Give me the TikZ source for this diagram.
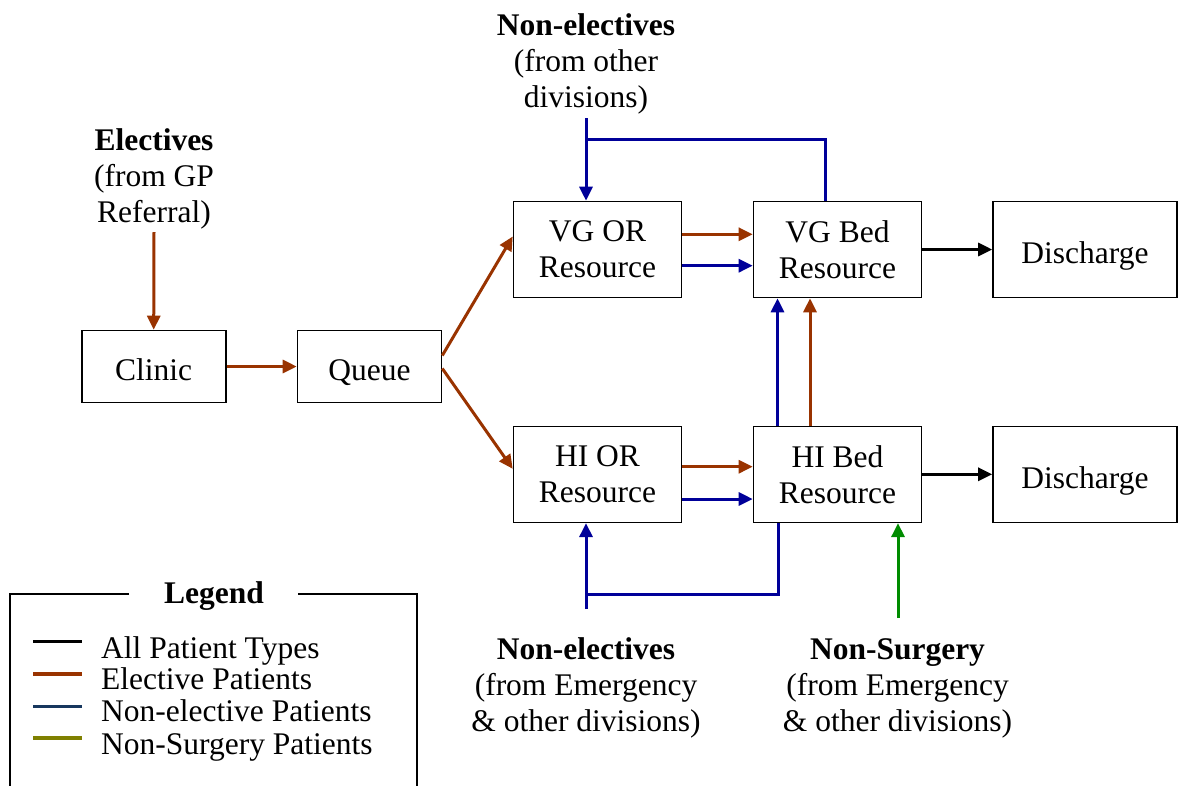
\documentclass[tikz,border=0pt]{standalone}
\usepackage{fontspec}
\setmainfont{Liberation Serif}
\usetikzlibrary{arrows.meta}
\definecolor{elec}{HTML}{993300}
\definecolor{nonel}{HTML}{000099}
\definecolor{nonsurg}{HTML}{008C00}
\definecolor{legnonel}{HTML}{17375E}
\definecolor{legnonsurg}{HTML}{7F8000}
\begin{document}
\begin{tikzpicture}[x=1pt,y=-1pt,
  txt/.style={font=\fontsize{31.5}{36}\selectfont},
  box/.style={draw, line width=1.6pt, inner sep=0pt, align=center, txt,
              minimum width=168pt, minimum height=96pt},
  oneline/.style={text height=28pt, text depth=0pt},
  smallbox/.style={box, oneline, minimum width=144pt, minimum height=72pt},
  widebox/.style={box, oneline, minimum width=184pt},
  lbl/.style={anchor=base, inner sep=0pt, txt},
  flow/.style={line width=3pt, -{Triangle[length=14pt,width=13pt]}},
  link/.style={line width=3pt},
  keyline/.style={line width=3.5pt}]
\useasboundingbox (0,0) rectangle (1188,785);

% process boxes
\node[smallbox] (clinic) at (153.7,366.5) {Clinic};
\node[smallbox] (queue)  at (369.5,366.5) {Queue};
\node[box] (vgor)  at (597.5,249.5) {VG OR\\Resource};
\node[box] (vgbed) at (837.5,249.5) {VG Bed\\Resource};
\node[widebox] (vgdis) at (1085,249.5) {Discharge};
\node[box] (hior)  at (597.5,474.3) {HI OR\\Resource};
\node[box] (hibed) at (837.5,474.3) {HI Bed\\Resource};
\node[widebox] (hidis) at (1085,474.3) {Discharge};

% source labels
\node[lbl] (el1) at (154,150) {\bfseries Electives};
\node[lbl] (el2) at (154,186) {(from GP};
\node[lbl] (el3) at (154,222) {Referral)};
\coordinate (elsrc) at (154,232);

\node[lbl] (ne1) at (586,35) {\bfseries Non-electives};
\node[lbl] (ne2) at (586,71) {(from other};
\node[lbl] (ne3) at (586,107) {divisions)};
\coordinate (nesrc) at (586,118);
\coordinate (nejoin) at (586,139);

\node[lbl] (nb1) at (586,659) {\bfseries Non-electives};
\node[lbl] (nb2) at (586,695) {(from Emergency};
\node[lbl] (nb3) at (586,731) {\& other divisions)};
\coordinate (nbsrc) at (586,609);
\coordinate (nbjoin) at (586,594);

\node[lbl] (ns1) at (897.5,659) {\bfseries Non-Surgery};
\node[lbl] (ns2) at (897.5,695) {(from Emergency};
\node[lbl] (ns3) at (897.5,731) {\& other divisions)};
\coordinate (nssrc) at (898,618);

% elective flow
\draw[flow,elec] (elsrc) -- (clinic.north);
\draw[flow,elec] (clinic.east) -- (queue.west);
\draw[flow,elec] ([yshift=11pt]queue.east) -- ([yshift=13pt]vgor.west);
\draw[flow,elec] ([yshift=-2pt]queue.east) -- ([yshift=5.5pt]hior.west);
\draw[flow,elec] ([yshift=15.2pt]vgor.east) -- ([yshift=15.2pt]vgbed.west);
\draw[flow,elec] ([yshift=7.6pt]hior.east) -- ([yshift=7.6pt]hibed.west);
\draw[flow,elec] ([xshift=-27.5pt]hibed.north) -- ([xshift=-27.5pt]vgbed.south);

% non-elective flow
\draw[flow,nonel] ([yshift=-16.2pt]vgor.east) -- ([yshift=-16.2pt]vgbed.west);
\draw[flow,nonel] ([yshift=-24.7pt]hior.east) -- ([yshift=-24.7pt]hibed.west);
\draw[flow,nonel] ([xshift=-60pt]hibed.north) -- ([xshift=-60pt]vgbed.south);
\draw[flow,nonel] (nesrc) -- ([xshift=-11.5pt]vgor.north);
\draw[link,nonel] ([xshift=-12.5pt]vgbed.north) |- (nejoin);
\draw[flow,nonel] (nbsrc) -- ([xshift=-11.5pt]hior.south);
\draw[link,nonel] ([xshift=-59.5pt]hibed.south) |- (nbjoin);

% non-surgery flow
\draw[flow,nonsurg] (nssrc) -- ([xshift=60.5pt]hibed.south);

% discharge
\draw[flow,black] (vgbed.east) -- (vgdis.west);
\draw[flow,black] (hibed.east) -- (hidis.west);

% legend
\draw[line width=1.6pt] (129,594) -- (10,594) -- (10,786);
\draw[line width=1.6pt] (298,594) -- (417,594) -- (417,786);
\node[lbl] (legtitle) at (214,603) {\bfseries Legend};
\draw[keyline,black]      (33,641.7) -- (82,641.7);
\draw[keyline,elec]       (33,674)   -- (82,674);
\draw[keyline,legnonel]   (33,706.7) -- (82,706.7);
\draw[keyline,legnonsurg] (33,738)   -- (82,738);
\node[lbl,anchor=base west] (k1) at (101,658)   {All Patient Types};
\node[lbl,anchor=base west] (k2) at (101,689.5) {Elective Patients};
\node[lbl,anchor=base west] (k3) at (101,721.5) {Non-elective Patients};
\node[lbl,anchor=base west] (k4) at (101,754)   {Non-Surgery Patients};
\end{tikzpicture}
\end{document}
